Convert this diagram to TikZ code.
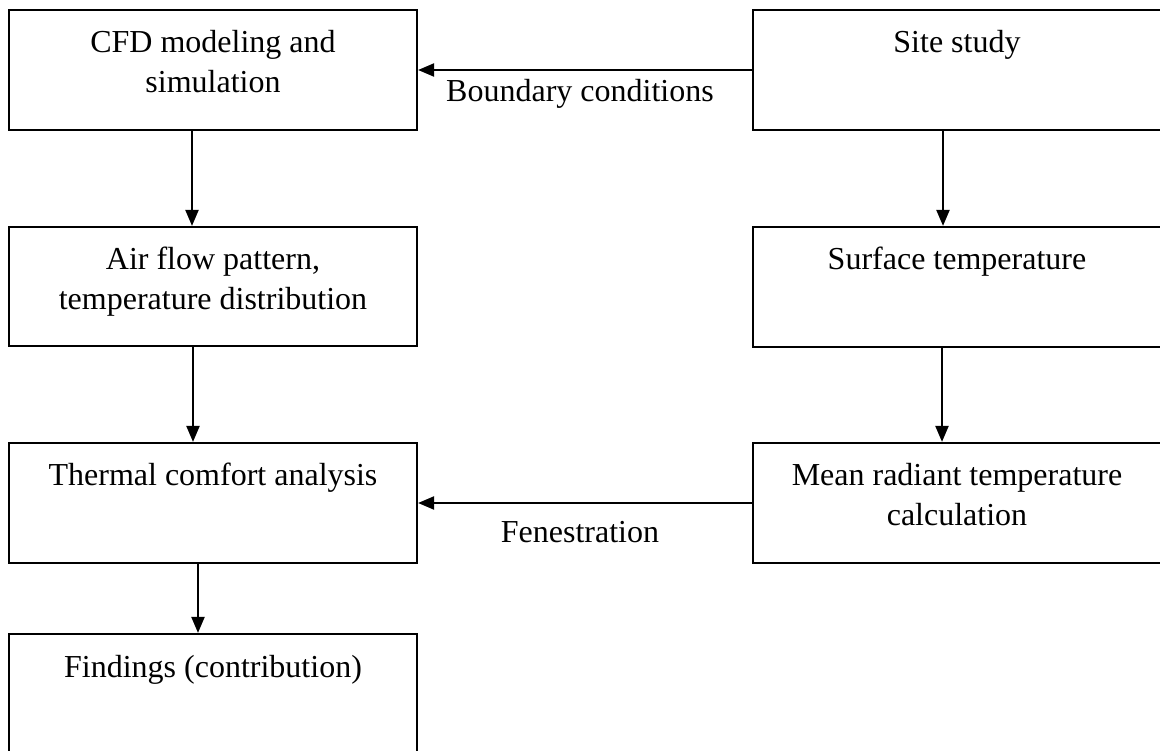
\documentclass[tikz,border=0pt]{standalone}
\usepackage{fontspec}
\setmainfont{Liberation Serif}
\usetikzlibrary{arrows.meta}
\begin{document}
\begin{tikzpicture}[x=1pt,y=-1pt,
  box/.style={draw=black, line width=2.2pt, rectangle, inner sep=0pt, minimum width=408pt},
  txt/.style={anchor=north, inner sep=0pt, align=center, font=\fontsize{32}{40}\selectfont},
  lbl/.style={inner sep=0pt, anchor=base, font=\fontsize{32}{40}\selectfont},
  arr/.style={line width=2.2pt, -{Triangle[length=16pt,width=13pt]}}]
\useasboundingbox[fill=white] (0,0) rectangle (1160,751);
% boxes
\node[box, minimum height=120pt] (cfd) at (213,70) {};
\node[box, minimum height=119pt] (air) at (213,286.5) {};
\node[box, minimum height=120pt] (thermal) at (213,503) {};
\node[box, minimum height=120pt] (find) at (213,694) {};
\node[box, minimum height=120pt] (site) at (957,70) {};
\node[box, minimum height=120pt] (surf) at (957,287) {};
\node[box, minimum height=120pt] (mean) at (957,503) {};
% texts
\node[txt] (cfdt) at ([yshift=-21pt]cfd.north) {CFD modeling and\\simulation};
\node[txt] (airt) at ([yshift=-21pt]air.north) {Air flow pattern,\\temperature distribution};
\node[txt] (thermalt) at ([yshift=-21pt]thermal.north) {Thermal comfort analysis};
\node[txt] (findt) at ([yshift=-22pt]find.north) {Findings (contribution)};
\node[txt] (sitet) at ([yshift=-21pt]site.north) {Site study};
\node[txt] (surft) at ([yshift=-21pt]surf.north) {Surface temperature};
\node[txt] (meant) at ([yshift=-21pt]mean.north) {Mean radiant temperature\\calculation};
% column coordinates for vertical arrows
\coordinate (x1) at (192,0);
\coordinate (x2) at (193,0);
\coordinate (x3) at (198,0);
\coordinate (x4) at (943,0);
\coordinate (x5) at (942,0);
% arrows
\draw[arr] (cfd.south -| x1) -- (air.north -| x1);
\draw[arr] (air.south -| x2) -- (thermal.north -| x2);
\draw[arr] (thermal.south -| x3) -- (find.north -| x3);
\draw[arr] (site.south -| x4) -- (surf.north -| x4);
\draw[arr] (surf.south -| x5) -- (mean.north -| x5);
\draw[arr] (site.west) -- node[lbl, pos=0.515, yshift=-32pt] {Boundary conditions} (cfd.east);
\draw[arr] (mean.west) -- node[lbl, pos=0.515, yshift=-39pt] {Fenestration} (thermal.east);
\end{tikzpicture}
\end{document}
